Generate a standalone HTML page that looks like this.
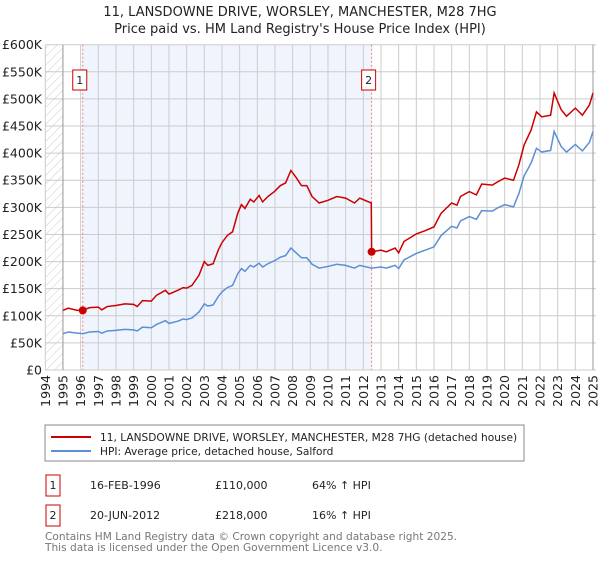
<!DOCTYPE html>
<html><head><meta charset="utf-8"><style>
body{margin:0;background:#fff;font-family:"Liberation Sans","DejaVu Sans",sans-serif;}
svg text{font-family:"DejaVu Sans","Liberation Sans",sans-serif;}
</style></head><body>
<svg id="c" width="600" height="560" viewBox="0 0 600 560">
<text x="300" y="16" text-anchor="middle" font-size="13" fill="#222">11, LANSDOWNE DRIVE, WORSLEY, MANCHESTER, M28 7HG</text>
<text x="300" y="33" text-anchor="middle" font-size="13" fill="#222">Price paid vs. HM Land Registry's House Price Index (HPI)</text>
<defs><pattern id="hatch" width="6" height="6" patternUnits="userSpaceOnUse" patternTransform="rotate(45)"><line x1="0" y1="0" x2="0" y2="6" stroke="#ccc" stroke-width="1"/></pattern></defs>
<g id="plot"></g>
<rect x="45" y="425" width="479" height="36" fill="#fff" stroke="#888"/>
<line x1="51" y1="437" x2="91" y2="437" stroke="#cc0000" stroke-width="2"/>
<text x="100" y="441" font-size="10.6" fill="#222">11, LANSDOWNE DRIVE, WORSLEY, MANCHESTER, M28 7HG (detached house)</text>
<line x1="51" y1="451" x2="91" y2="451" stroke="#5b8fd6" stroke-width="2"/>
<text x="100" y="455" font-size="10.6" fill="#222">HPI: Average price, detached house, Salford</text>
<g font-size="11" fill="#222">
<rect x="46" y="475" width="14" height="21" fill="#fff" stroke="#cc0000"/>
<text x="53" y="489" text-anchor="middle">1</text>
<text x="90" y="489">16-FEB-1996</text>
<text x="215" y="489">£110,000</text>
<text x="312" y="489">64% ↑ HPI</text>
<rect x="46" y="505" width="14" height="21" fill="#fff" stroke="#cc0000"/>
<text x="53" y="519" text-anchor="middle">2</text>
<text x="90" y="519">20-JUN-2012</text>
<text x="215" y="519">£218,000</text>
<text x="312" y="519">16% ↑ HPI</text>
</g>
<text x="45" y="540" font-size="10.6" fill="#777">Contains HM Land Registry data © Crown copyright and database right 2025.</text>
<text x="45" y="551" font-size="10.6" fill="#777">This data is licensed under the Open Government Licence v3.0.</text>
</svg>
<script>
const yTicks=[0,50,100,150,200,250,300,350,400,450,500,550,600];
const yTickLabels=["£0","£50K","£100K","£150K","£200K","£250K","£300K","£350K","£400K","£450K","£500K","£550K","£600K"];
const years=[1994,1995,1996,1997,1998,1999,2000,2001,2002,2003,2004,2005,2006,2007,2008,2009,2010,2011,2012,2013,2014,2015,2016,2017,2018,2019,2020,2021,2022,2023,2024,2025];
const sales=[{t:1996.12,v:110,label:"1"},{t:2012.47,v:218,label:"2"}];
const priceT=[1995.0,1995.3,1995.8,1996.12,1996.5,1997.0,1997.2,1997.5,1998.0,1998.5,1999.0,1999.2,1999.5,2000.0,2000.3,2000.8,2001.0,2001.5,2001.8,2002.0,2002.3,2002.7,2003.0,2003.2,2003.5,2003.8,2004.0,2004.3,2004.6,2004.9,2005.1,2005.3,2005.6,2005.8,2006.1,2006.3,2006.6,2007.0,2007.3,2007.6,2007.9,2008.2,2008.5,2008.8,2009.1,2009.5,2010.0,2010.5,2011.0,2011.5,2011.8,2012.45,2012.47,2013.0,2013.3,2013.8,2014.0,2014.3,2015.0,2015.5,2016.0,2016.4,2017.0,2017.3,2017.5,2018.0,2018.4,2018.7,2019.3,2019.6,2020.0,2020.5,2020.8,2021.1,2021.5,2021.8,2022.1,2022.6,2022.8,2023.2,2023.5,2024.0,2024.4,2024.8,2025.0];
const priceV=[110,114,110,110,115,116,111,117,119,122,121,117,128,127,138,147,140,147,152,151,156,175,200,193,196,222,235,248,255,290,305,298,315,310,322,310,320,330,340,345,368,355,340,340,320,308,313,320,317,308,317,308,218,221,218,225,216,237,251,257,264,289,308,304,320,329,323,343,341,347,354,350,378,415,443,476,467,470,511,480,468,483,470,489,511];
const hpiT=[1995.0,1995.3,1995.8,1996.12,1996.5,1997.0,1997.2,1997.5,1998.0,1998.5,1999.0,1999.2,1999.5,2000.0,2000.3,2000.8,2001.0,2001.5,2001.8,2002.0,2002.3,2002.7,2003.0,2003.2,2003.5,2003.8,2004.0,2004.3,2004.6,2004.9,2005.1,2005.3,2005.6,2005.8,2006.1,2006.3,2006.6,2007.0,2007.3,2007.6,2007.9,2008.2,2008.5,2008.8,2009.1,2009.5,2010.0,2010.5,2011.0,2011.5,2011.8,2012.47,2013.0,2013.3,2013.8,2014.0,2014.3,2015.0,2015.5,2016.0,2016.4,2017.0,2017.3,2017.5,2018.0,2018.4,2018.7,2019.3,2019.6,2020.0,2020.5,2020.8,2021.1,2021.5,2021.8,2022.1,2022.6,2022.8,2023.2,2023.5,2024.0,2024.4,2024.8,2025.0];
const hpiV=[67,70,68,67,70,71,68,72,73,75,74,72,79,78,84,91,86,90,94,93,96,107,122,118,120,136,144,152,156,178,187,182,193,190,197,190,196,202,208,211,225,216,207,207,195,188,191,195,193,188,193,188,190,188,193,187,203,215,221,227,248,265,262,275,283,278,294,293,299,305,301,325,358,382,409,402,405,440,412,402,416,404,420,440];
const NS="http://www.w3.org/2000/svg";
const L=45.3,R=596,T=44.7,B=370;
const xs=t=>L+(t-1994)*(593-45.3)/31;
const ys=v=>B-v*(B-T)/600;
const g=document.getElementById('plot');
function mk(tag,attrs,parent){const e=document.createElementNS(NS,tag);for(const k in attrs)e.setAttribute(k,attrs[k]);(parent||g).appendChild(e);return e;}
let e;
e=mk('rect',{x:L,y:T,width:xs(1995)-L,height:B-T,fill:'url(#hatch)'});


e=mk('rect',{x:xs(sales[0].t),y:T,width:xs(sales[1].t)-xs(sales[0].t),height:B-T,fill:'#f0f4fd'});


yTicks.forEach((v,i)=>{
 e=mk('line',{x1:L,x2:R,y1:ys(v),y2:ys(v),stroke:'#ccc','stroke-width':1});
 
 
 e=mk('text',{x:42,y:ys(v)+4.5,'text-anchor':'end','font-size':12.5,fill:'#222'});
 e.textContent=yTickLabels[i];
 
 
});
years.forEach(yr=>{
 const x=xs(yr);
 e=mk('line',{x1:x,x2:x,y1:T,y2:B,stroke:'#ccc','stroke-width':1});
 
 
 e=mk('text',{x:0,y:0,'font-size':12.5,fill:'#222','text-anchor':'end',transform:`translate(${x+4.5},375) rotate(-90)`});
 e.textContent=String(yr);
 
 
});
e=mk('line',{x1:xs(1995),x2:xs(1995),y1:T,y2:B,stroke:'#999'});


e=mk('line',{x1:R-3,x2:R-3,y1:T,y2:B,stroke:'#999'});


sales.forEach(s=>{
 e=mk('line',{x1:xs(s.t),x2:xs(s.t),y1:T,y2:B,stroke:'#f08080','stroke-dasharray':'2,2'});
 
 
 e=mk('rect',{x:xs(s.t)-10,y:70,width:14,height:20,fill:'#fff',stroke:'#cc0000'});
 
 
 e=mk('text',{x:xs(s.t)-3,y:84,'text-anchor':'middle','font-size':11,fill:'#222'});
 e.textContent=s.label;
 
 
});
e=mk('polyline',{points:hpiT.map((t,i)=>xs(t)+','+ys(hpiV[i])).join(' '),fill:'none',stroke:'#5b8fd6','stroke-width':1.5});


e=mk('polyline',{points:priceT.map((t,i)=>xs(t)+','+ys(priceV[i])).join(' '),fill:'none',stroke:'#cc0000','stroke-width':1.5});


sales.forEach(s=>{
 e=mk('circle',{cx:xs(s.t),cy:ys(s.v),r:4,fill:'#cc0000'});
 
 
});
</script>
</body></html>
